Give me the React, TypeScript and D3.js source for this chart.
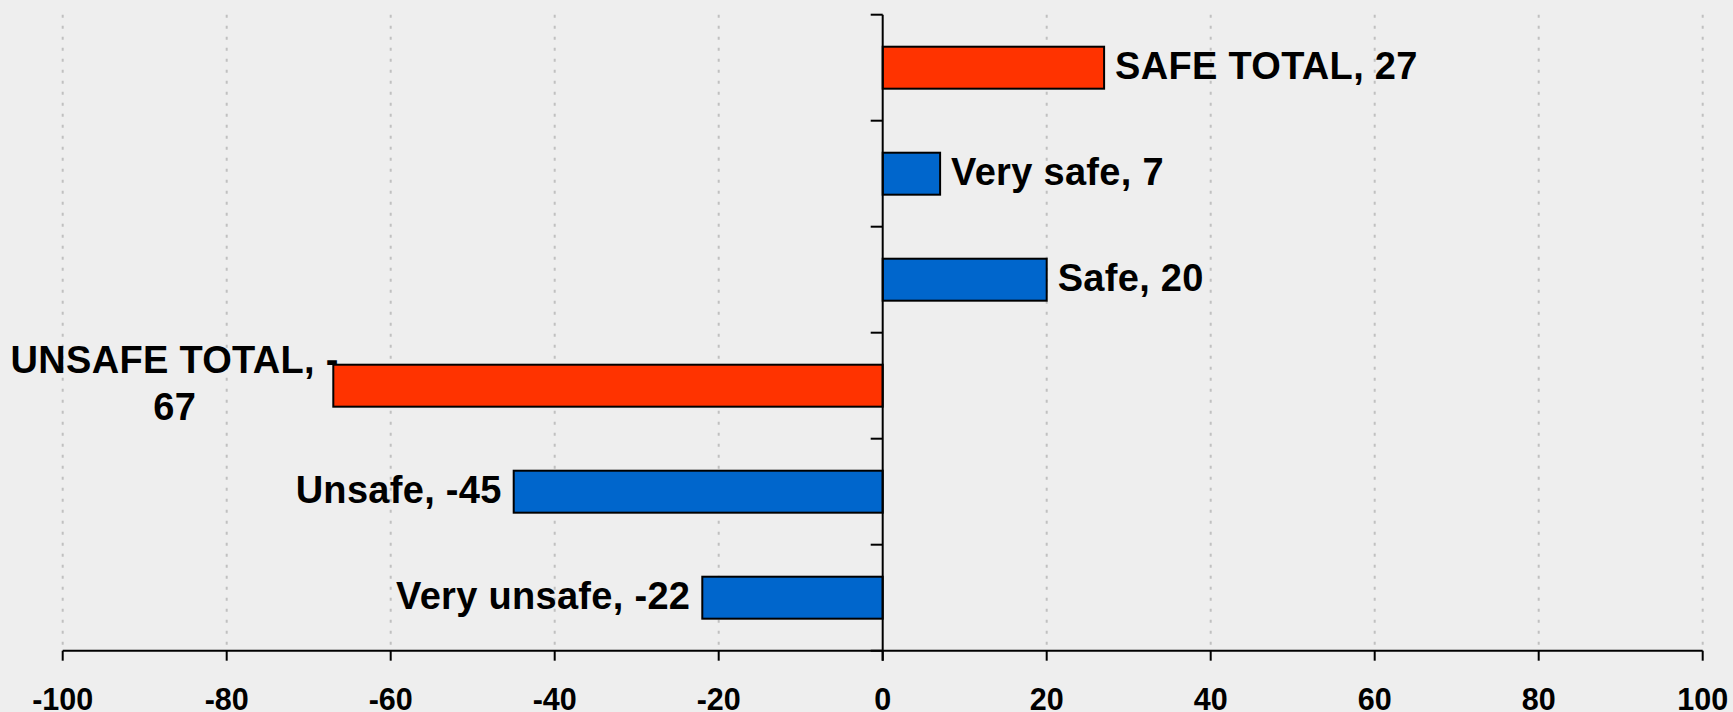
import React from "react";
import * as d3 from "d3";

const categories = ["SAFE TOTAL", "Very safe", "Safe", "UNSAFE TOTAL", "Unsafe", "Very unsafe"];
const values = [27, 7, 20, -67, -45, -22];
const isTotal = [true, false, false, true, false, false];
const xTicks = [-100, -80, -60, -40, -20, 0, 20, 40, 60, 80, 100];

const W = 1733;
const H = 712;
const M = { left: 62.7, right: W - 1702.7, top: 14.7, bottom: H - 650.7 };
const RED = "#ff3300";
const BLUE = "#0066cc";
const FONT = "'Liberation Sans', Arial, sans-serif";

export default function App() {
  const x = d3.scaleLinear().domain([-100, 100]).range([M.left, W - M.right]);
  const y = d3.scaleBand<string>().domain(categories).range([M.top, H - M.bottom]).paddingInner(0).paddingOuter(0);
  const bw = y.bandwidth();
  const barH = bw * 0.396;
  const x0 = x(0);
  const yBottom = H - M.bottom;
  const boundaries = d3.range(categories.length + 1).map((i) => M.top + i * bw);

  return (
    <svg
      width={W}
      height={H}
      style={{ position: "absolute", left: 0, top: 0, background: "#eeeeee", fontFamily: FONT }}
    >
      <rect x={0} y={0} width={W} height={H} fill="#eeeeee" />
      {xTicks.filter((t) => t !== 0).map((t) => (
        <line
          key={"g" + t}
          x1={x(t)}
          x2={x(t)}
          y1={M.top}
          y2={yBottom}
          stroke="#c0c0c0"
          strokeWidth={2}
          strokeDasharray="3 8"
        />
      ))}
      {categories.map((c, i) => {
        const v = values[i];
        const yc = (y(c) as number) + bw / 2;
        const xe = x(v);
        const label = `${c}, ${v}`;
        const fill = isTotal[i] ? RED : BLUE;
        let text: React.ReactNode;
        const approxW = label.length * 38 * 0.58;
        if (v >= 0) {
          text = (
            <text x={xe + 11} y={yc + 11} fontSize={38} fontWeight="bold" textAnchor="start" letterSpacing={0.3}>
              {label}
            </text>
          );
        } else if (xe - 12 - approxW < 0) {
          const l1 = `${c}, -`;
          const l2 = `${Math.abs(v)}`;
          const cx = xe / 2 + 8;
          text = (
            <g fontSize={38} fontWeight="bold" textAnchor="middle" letterSpacing={0.3}>
              <text x={cx} y={yc + 11 - 23.7}>{l1}</text>
              <text x={cx} y={yc + 11 + 23.7}>{l2}</text>
            </g>
          );
        } else {
          text = (
            <text x={xe - 12} y={yc + 11} fontSize={38} fontWeight="bold" textAnchor="end" letterSpacing={0.3}>
              {label}
            </text>
          );
        }
        return (
          <g key={c}>
            <rect
              x={Math.min(x0, xe)}
              y={yc - barH / 2}
              width={Math.abs(xe - x0)}
              height={barH}
              fill={fill}
              stroke="#000"
              strokeWidth={2}
            />
            {text}
          </g>
        );
      })}
      {/* y axis */}
      <line x1={x0} x2={x0} y1={M.top} y2={yBottom + 10} stroke="#000" strokeWidth={2} />
      {boundaries.map((b, i) => (
        <line key={"yt" + i} x1={x0 - 12} x2={x0} y1={b} y2={b} stroke="#000" strokeWidth={2} />
      ))}
      {/* x axis */}
      <line x1={x(-100)} x2={x(100)} y1={yBottom} y2={yBottom} stroke="#000" strokeWidth={2} />
      {xTicks.map((t) => (
        <g key={"xt" + t}>
          <line x1={x(t)} x2={x(t)} y1={yBottom} y2={yBottom + 10} stroke="#000" strokeWidth={2} />
          <text x={x(t)} y={709.5} fontSize={30.5} fontWeight="bold" textAnchor="middle">
            {t}
          </text>
        </g>
      ))}
    </svg>
  );
}
